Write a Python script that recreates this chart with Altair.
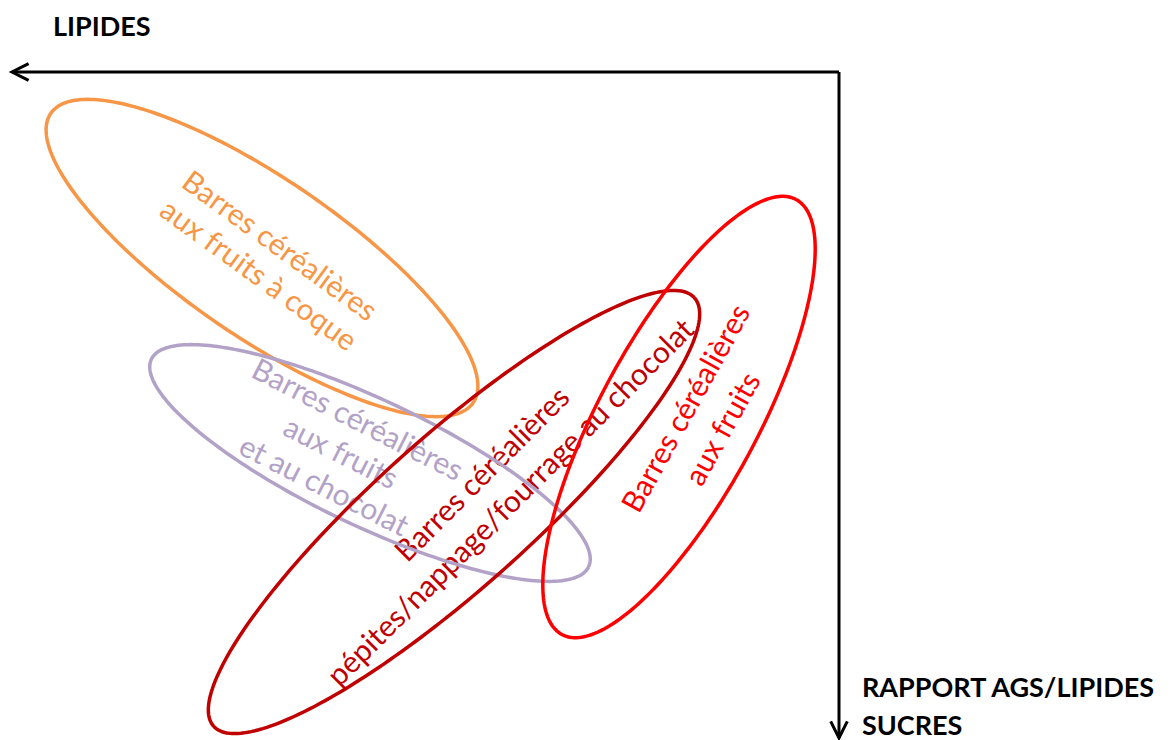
import numpy as np
import pandas as pd
import altair as alt

# ---- Ellipses (image-pixel style coordinates, y grows downward) ----
ell_names = ["noix", "fruits_choco", "choco", "fruits"]
ell_cx = [262, 370, 454, 679]
ell_cy = [258, 463, 512, 417]
ell_a = [256, 242, 322, 247]
ell_b = [79, 63, 76, 79]
ell_tilt = [34.4, 25.4, -41.7, -61.7]
ell_colors = ["#F79646", "#B3A2C7", "#C00000", "#FF0000"]

# ---- Ellipse labels (anchor = centre of first line) ----
label_texts = [
    "Barres céréalières\naux fruits à coque",
    "Barres céréalières\naux fruits\net au chocolat",
    "Barres céréalières\npépites/nappage/fourrage au chocolat",
    "Barres céréalières\naux fruits",
]
label_x = [279, 357, 483, 687]
label_y = [247, 421, 475, 409]
label_angle = [36, 27, 315, 299]
label_line_height = [36, 37, 40, 42]
label_colors = ell_colors

# ---- Axis arrows and titles ----
axis_titles = ["LIPIDES", "RAPPORT AGS/LIPIDES", "SUCRES"]
axis_title_x = [53, 862, 862]
axis_title_y = [36, 697, 735]
h_axis = {"x": 12, "x2": 839, "y": 72}
v_axis = {"x": 839, "y": 72, "y2": 738}
tips_x = [12, 839]
tips_y = [72, 738]
tips_angle = [0, 270]

# Build ellipse outlines
rows = []
t = np.linspace(0, 2 * np.pi, 241)
for name, cx, cy, a, b, th, col in zip(ell_names, ell_cx, ell_cy, ell_a, ell_b, ell_tilt, ell_colors):
    r = np.deg2rad(th)
    xs_ = cx + a * np.cos(t) * np.cos(r) - b * np.sin(t) * np.sin(r)
    ys_ = cy + a * np.cos(t) * np.sin(r) + b * np.sin(t) * np.cos(r)
    for i, (xv, yv) in enumerate(zip(xs_, ys_)):
        rows.append({"name": name, "i": i, "x": xv, "y": yv, "color": col})
ell_df = pd.DataFrame(rows)

ax_df = pd.DataFrame({"text": axis_titles, "x": axis_title_x, "y": axis_title_y})
h_df = pd.DataFrame([h_axis])
v_df = pd.DataFrame([v_axis])
tip_df = pd.DataFrame({"x": tips_x, "y": tips_y, "angle": tips_angle})

xs = alt.Scale(domain=[8, 1163], nice=False, zero=False)
ys = alt.Scale(domain=[8, 740], nice=False, zero=False, reverse=True)
X = lambda f="x": alt.X(f + ":Q", scale=xs, axis=None)
Y = lambda f="y": alt.Y(f + ":Q", scale=ys, axis=None)

label_layers = []
for txt, lx, ly, ang, lh, col in zip(label_texts, label_x, label_y, label_angle,
                                     label_line_height, label_colors):
    d = pd.DataFrame({"text": [txt], "x": [lx], "y": [ly], "angle": [ang]})
    label_layers.append(
        alt.Chart(d).mark_text(
            font="Lato", fontSize=30, lineBreak="\n", lineHeight=lh,
            align="center", baseline="middle", color=col
        ).encode(x=X(), y=Y(), text="text:N",
                 angle=alt.Angle("angle:Q", scale=None))
    )

ellipses = alt.Chart(ell_df).mark_line(strokeWidth=3.5).encode(
    x=X(), y=Y(), detail="name:N", order="i:Q",
    color=alt.Color("color:N", scale=None))

hline = alt.Chart(h_df).mark_rule(color="black", strokeWidth=3).encode(
    x=X(), x2="x2:Q", y=Y())
vline = alt.Chart(v_df).mark_rule(color="black", strokeWidth=3).encode(
    x=X(), y=Y(), y2="y2:Q")
tips = alt.Chart(tip_df).mark_point(
    shape="M 2 -1 L 0 0 L 2 1", filled=False, color="black",
    strokeWidth=3, size=276, opacity=1
).encode(x=X(), y=Y(), angle=alt.Angle("angle:Q", scale=None))

titles = alt.Chart(ax_df).mark_text(
    font="Lato", fontSize=27, fontWeight="bold", align="left",
    baseline="alphabetic", color="black"
).encode(x=X(), y=Y(), text="text:N")

chart = alt.layer(*label_layers, ellipses, hline, vline, tips, titles).properties(
    width=1155, height=732, padding=0,
    autosize=alt.AutoSizeParams(type="none"),
    background="white"
).configure_view(stroke=None)

chart.save("out.html", embed_options={"renderer": "svg", "actions": False})
